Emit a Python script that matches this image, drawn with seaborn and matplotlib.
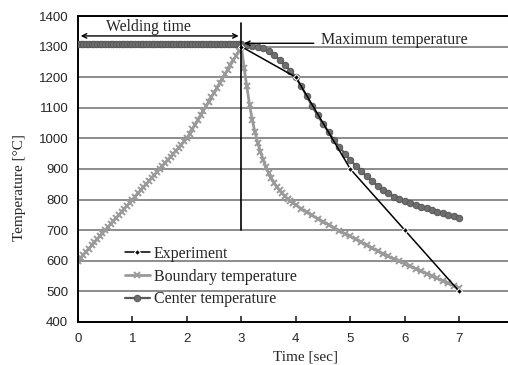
import numpy as np
import pandas as pd
import matplotlib
matplotlib.use("Agg")
import matplotlib.pyplot as plt
import seaborn as sns

# datos
exp_t = [3, 4, 5, 6, 7]
exp_v = [1300, 1200, 900, 700, 500]

# temperatura de borde: calentamiento 0-3 s (paso 0.05)
bnd_heat_t = [0.0, 0.05, 0.1, 0.15, 0.2, 0.25, 0.3, 0.35, 0.4, 0.45, 0.5,
              0.55, 0.6, 0.65, 0.7, 0.75, 0.8, 0.85, 0.9, 0.95, 1.0,
              1.05, 1.1, 1.15, 1.2, 1.25, 1.3, 1.35, 1.4, 1.45, 1.5,
              1.55, 1.6, 1.65, 1.7, 1.75, 1.8, 1.85, 1.9, 1.95, 2.0,
              2.05, 2.1, 2.15, 2.2, 2.25, 2.3, 2.35, 2.4, 2.45, 2.5,
              2.55, 2.6, 2.65, 2.7, 2.75, 2.8, 2.85, 2.9, 2.95]
bnd_heat_v = [600, 610, 620, 630, 640, 650, 660, 670, 680, 690, 700,
              710, 720, 730, 740, 750, 760, 770, 780, 790, 800,
              810, 820, 830, 840, 850, 860, 870, 880, 890, 900,
              910, 920, 930, 940, 950, 960, 970, 980, 990, 1000,
              1015, 1030, 1045, 1060, 1075, 1090, 1105, 1120, 1135, 1150,
              1165, 1180, 1195, 1210, 1225, 1240, 1255, 1270, 1285]
# enfriamiento 3-7 s
bnd_cool_t = [3.0, 3.05, 3.1, 3.15, 3.2, 3.25, 3.3, 3.35, 3.4, 3.45, 3.5,
              3.55, 3.6, 3.65, 3.7, 3.75, 3.8, 3.85, 3.9, 3.95, 4.0,
              4.1, 4.2, 4.3, 4.4, 4.5, 4.6, 4.7, 4.8, 4.9, 5.0,
              5.1, 5.2, 5.3, 5.4, 5.5, 5.6, 5.7, 5.8, 5.9, 6.0,
              6.1, 6.2, 6.3, 6.4, 6.5, 6.6, 6.7, 6.8, 6.9, 7.0]
bnd_cool_v = [1300, 1230, 1170, 1110, 1060, 1020, 985, 957, 930, 907, 887,
              870, 855, 842, 830, 820, 811, 803, 796, 789, 783,
              770, 758, 748, 738, 728, 718, 708, 698, 689, 680,
              670, 660, 650, 641, 632, 623, 614, 606, 598, 590,
              582, 574, 566, 558, 550, 542, 534, 526, 518, 510]

# temperatura del centro: 0-3 s (paso 0.05)
cen_heat_t = bnd_heat_t
cen_heat_v = [1310] * 60
cen_cool_t = [3.0, 3.1, 3.2, 3.3, 3.4, 3.5, 3.6, 3.7, 3.8, 3.9, 4.0,
              4.1, 4.2, 4.3, 4.4, 4.5, 4.6, 4.7, 4.8, 4.9, 5.0,
              5.1, 5.2, 5.3, 5.4, 5.5, 5.6, 5.7, 5.8, 5.9, 6.0,
              6.1, 6.2, 6.3, 6.4, 6.5, 6.6, 6.7, 6.8, 6.9, 7.0]
cen_cool_v = [1310, 1306, 1303, 1300, 1295, 1285, 1272, 1257, 1240, 1222, 1200,
              1170, 1138, 1105, 1075, 1047, 1020, 995, 972, 950, 930,
              910, 892, 876, 860, 846, 832, 820, 810, 802, 796,
              789, 783, 777, 771, 766, 761, 756, 751, 746, 741]

yticks = [400, 500, 600, 700, 800, 900, 1000, 1100, 1200, 1300, 1400]
xticks = [0, 1, 2, 3, 4, 5, 6, 7]

bnd_t = bnd_heat_t + bnd_cool_t
bnd_v = bnd_heat_v + bnd_cool_v
cen_t = cen_heat_t + cen_cool_t
cen_v = cen_heat_v + cen_cool_v

sns.set_style("white")
plt.rcParams['font.family'] = ['Liberation Sans', 'DejaVu Sans']
serif = ['Liberation Serif', 'DejaVu Serif']

fig = plt.figure(figsize=(5.08, 3.65), dpi=100)
ax = fig.add_axes([0.1535, 0.118, 0.846, 0.838])

for y in yticks:
    ax.axhline(y, color='#8c8c8c', lw=1.4, zorder=0)

sns.lineplot(x=bnd_t, y=bnd_v, ax=ax, color='#9a9a9a', lw=2.0, marker='x',
             markersize=5, markeredgewidth=1.4, markeredgecolor='#9a9a9a',
             label='Boundary temperature', sort=False, zorder=2)
sns.lineplot(x=cen_t, y=cen_v, ax=ax, color='#5a5a5a', lw=1.6, marker='o',
             markersize=4.6, markeredgecolor='#5a5a5a', markerfacecolor='#6e6e6e',
             label='Center temperature', sort=False, zorder=3)
sns.lineplot(x=exp_t, y=exp_v, ax=ax, color='black', lw=1.1, marker='D',
             markersize=3, label='Experiment', sort=False, zorder=4)

# linea vertical y anotaciones
ax.plot([3, 3], [700, 1378], color='black', lw=1.2, zorder=5)
ax.annotate('', xy=(0, 1335), xytext=(3, 1335),
            arrowprops=dict(arrowstyle='<->', color='black', lw=1.0,
                            mutation_scale=8))
ax.text(1.3, 1364, 'Welding time', ha='center', va='center',
        fontsize=11.3, family=serif)
ax.annotate('', xy=(3.0, 1311), xytext=(4.38, 1311),
            arrowprops=dict(arrowstyle='->', color='black', lw=1.0,
                            mutation_scale=8))
ax.text(4.47, 1322, 'Maximum temperature', ha='left', va='center',
        fontsize=11.5, family=serif)

ax.set_xlim(0, 7.89)
ax.set_ylim(400, 1400)
ax.set_xticks(xticks)
ax.set_yticks(yticks)
ax.tick_params(axis='x', direction='in', length=4, width=1.2, labelsize=9.5,
               bottom=True, pad=8)
ax.tick_params(axis='y', length=0, labelsize=9.5, pad=7)

for s in ['left', 'bottom', 'top']:
    ax.spines[s].set_color('black')
    ax.spines[s].set_linewidth(1.4)
ax.spines['right'].set_visible(False)

ax.set_xlabel('Time [sec]', fontsize=11, family=serif, labelpad=4)
ax.xaxis.set_label_coords(0.53, -0.095)
ax.set_ylabel('Temperature [\u00b0C]', fontsize=11, family=serif)
ax.yaxis.set_label_coords(-0.121, 0.44)

handles, labels = ax.get_legend_handles_labels()
order = [2, 0, 1]
ax.legend([handles[i] for i in order], [labels[i] for i in order],
          loc='upper left', bbox_to_anchor=(0.102, 0.259), frameon=False,
          prop={'family': serif, 'size': 11.5},
          handlelength=1.56, handletextpad=0.25, labelspacing=0.42,
          borderpad=0.2, borderaxespad=0)

fig.savefig('out.png', dpi=100)
